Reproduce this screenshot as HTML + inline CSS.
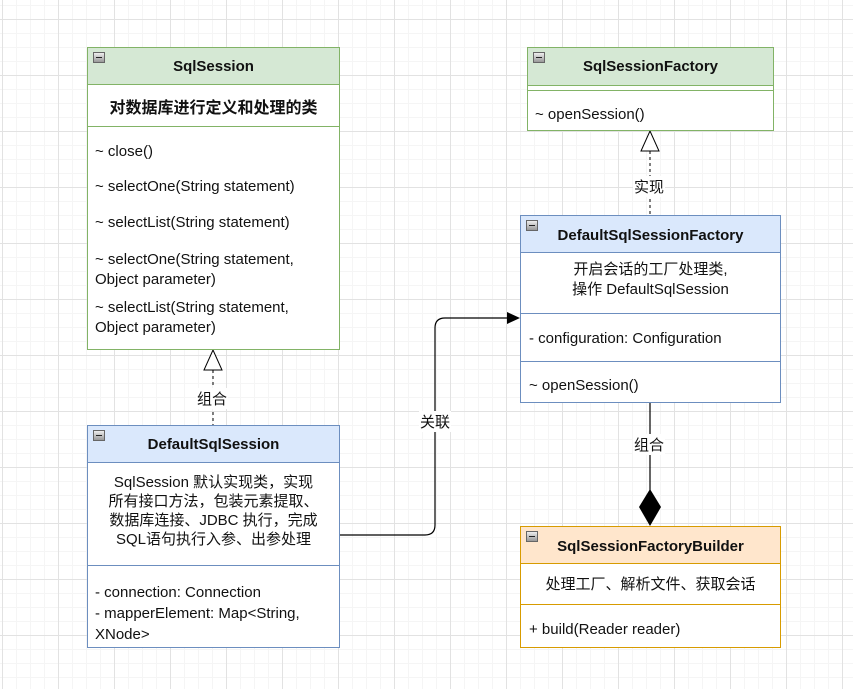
<!DOCTYPE html>
<html><head><meta charset="utf-8"><style>
body{margin:0;width:853px;height:689px;overflow:hidden;position:relative;font-family:"Liberation Sans","Noto Sans CJK SC",sans-serif;font-size:15px;color:#111;
background-color:#fff;
background-image:linear-gradient(#e2e2e2 1px,transparent 1px),linear-gradient(90deg,#e2e2e2 1px,transparent 1px),linear-gradient(#f5f5f5 1px,transparent 1px),linear-gradient(90deg,#f5f5f5 1px,transparent 1px);
background-size:56px 56px,56px 56px,14px 14px,14px 14px;background-position:0 19px,2px 0,0 5px,2px 0;}
.b{position:absolute;box-sizing:border-box;background:#fff;border:1.5px solid}
.h{position:absolute;left:0;right:0;top:0;font-weight:bold;font-size:15px;text-align:center;box-sizing:border-box;border-bottom:1.5px solid}
.ic{position:absolute;left:5px;top:4px;width:12px;height:11px;box-sizing:border-box;border:1px solid #666;background:linear-gradient(#eee,#999)}
.ic:after{content:"";position:absolute;left:2px;right:2px;top:4px;height:1px;background:#222}
.t{position:absolute;white-space:nowrap}
.l{position:absolute;left:0;right:0;height:0;border-top:1.5px solid}
.c{position:absolute;left:0;right:0;text-align:center}
.lab{position:absolute;background:#fff;font-size:15px;padding:0 1px}
</style></head><body>
<svg width="853" height="689" style="position:absolute;left:0;top:0">
<line x1="213" y1="370" x2="213" y2="425" stroke="#000" stroke-dasharray="3,3"/>
<polygon points="213,350 204,370 222,370" fill="#fff" stroke="#000"/>
<line x1="650" y1="151" x2="650" y2="215" stroke="#000" stroke-dasharray="3,3"/>
<polygon points="650,131 641,151 659,151" fill="#fff" stroke="#000"/>
<path d="M339,535 H425 Q435,535 435,525 V328 Q435,318 445,318 H510" fill="none" stroke="#000" stroke-width="1.2"/>
<polygon points="520,318 507,312 507,324" fill="#000"/>
<line x1="650" y1="402" x2="650" y2="490" stroke="#000" stroke-width="1.2"/>
<polygon points="650,489 661,507 650,526 639,507" fill="#000"/>
</svg>
<div class="lab" style="left:196px;top:388px">组合</div>
<div class="lab" style="left:633px;top:176px">实现</div>
<div class="lab" style="left:419px;top:411px">关联</div>
<div class="lab" style="left:633px;top:434px">组合</div>

<div class="b" style="left:87px;top:47px;width:253px;height:303px;border-color:#82b366">
<div class="h" style="height:37px;line-height:37px;background:#d5e8d4;border-color:#82b366"><div class="ic"></div>SqlSession</div>
<div class="c" style="top:46px;font-weight:bold;font-size:16px">对数据库进行定义和处理的类</div>
<div class="l" style="top:78px;border-color:#82b366"></div>
<div class="t" style="left:7px;top:95px">~ close()</div>
<div class="t" style="left:7px;top:130px">~ selectOne(String statement)</div>
<div class="t" style="left:7px;top:166px">~ selectList(String statement)</div>
<div class="t" style="left:7px;top:202px;line-height:20px">~ selectOne(String statement,<br>Object parameter)</div>
<div class="t" style="left:7px;top:250px;line-height:20px">~ selectList(String statement,<br>Object parameter)</div>
</div>

<div class="b" style="left:87px;top:425px;width:253px;height:223px;border-color:#6c8ebf">
<div class="h" style="height:37px;line-height:37px;background:#dae8fc;border-color:#6c8ebf"><div class="ic"></div>DefaultSqlSession</div>
<div class="c" style="top:47px;line-height:19px;font-size:15px">SqlSession 默认实现类，实现<br>所有接口方法，包装元素提取、<br>数据库连接、JDBC 执行，完成<br>SQL语句执行入参、出参处理</div>
<div class="l" style="top:139px;border-color:#6c8ebf"></div>
<div class="t" style="left:7px;top:156px;line-height:21px">- connection: Connection<br>- mapperElement: Map&lt;String,<br>XNode&gt;</div>
</div>

<div class="b" style="left:527px;top:47px;width:247px;height:84px;border-color:#82b366">
<div class="h" style="height:38px;line-height:38px;background:#d5e8d4;border-color:#82b366"><div class="ic"></div>SqlSessionFactory</div>
<div class="l" style="top:42px;border-color:#82b366"></div>
<div class="t" style="left:7px;top:58px">~ openSession()</div>
</div>

<div class="b" style="left:520px;top:215px;width:261px;height:188px;border-color:#6c8ebf">
<div class="h" style="height:37px;line-height:40px;background:#dae8fc;border-color:#6c8ebf"><div class="ic"></div>DefaultSqlSessionFactory</div>
<div class="c" style="top:44px;line-height:20px;font-size:15px">开启会话的工厂处理类,<br>操作 DefaultSqlSession</div>
<div class="l" style="top:97px;border-color:#6c8ebf"></div>
<div class="t" style="left:8px;top:114px">- configuration: Configuration</div>
<div class="l" style="top:145px;border-color:#6c8ebf"></div>
<div class="t" style="left:8px;top:161px">~ openSession()</div>
</div>

<div class="b" style="left:520px;top:526px;width:261px;height:122px;border-color:#d79b00">
<div class="h" style="height:37px;line-height:40px;background:#ffe6cc;border-color:#d79b00"><div class="ic"></div>SqlSessionFactoryBuilder</div>
<div class="c" style="top:46px;font-size:15px">处理工厂、解析文件、获取会话</div>
<div class="l" style="top:77px;border-color:#d79b00"></div>
<div class="t" style="left:8px;top:94px">+ build(Reader reader)</div>
</div>
</body></html>
